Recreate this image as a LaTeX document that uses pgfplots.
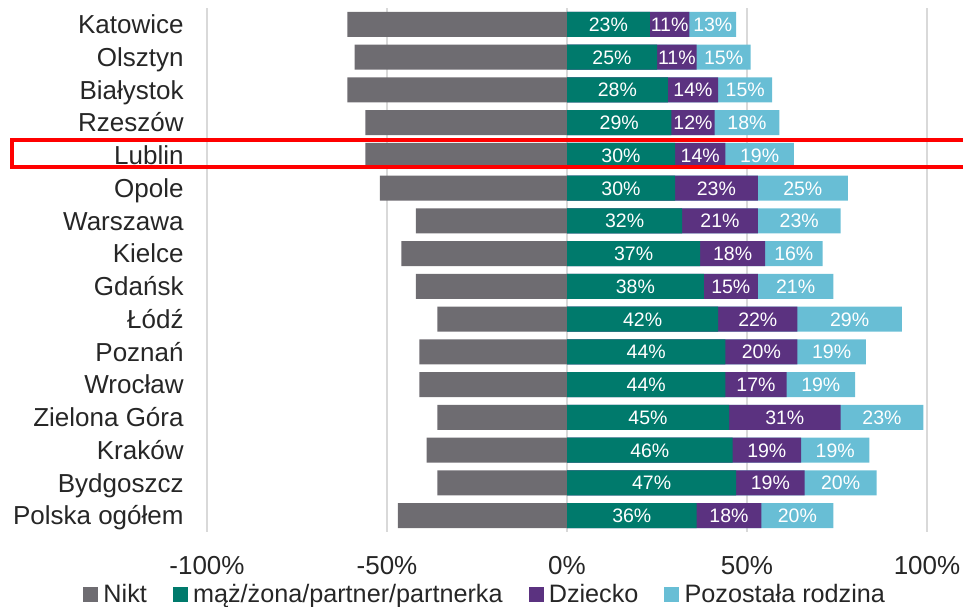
\documentclass[border=0pt]{standalone}
\usepackage{pgfplots}
\pgfplotsset{compat=1.18}
\usepackage{pgfplotstable}
\usepackage{fontspec}
\setmainfont{Liberation Sans}
\usetikzlibrary{calc}
\definecolor{cGray}{HTML}{6E6C71}
\definecolor{cTeal}{HTML}{007A6C}
\definecolor{cPurple}{HTML}{5B3280}
\definecolor{cBlue}{HTML}{68BED5}
\definecolor{cText}{HTML}{262626}
\definecolor{cGrid}{HTML}{D9D9D9}

% n = Nikt, a = mąż/żona/partner/partnerka, b = Dziecko, c = Pozostała rodzina
\pgfplotstableread{
idx n  a  b  c
0   61 23 11 13
1   59 25 11 15
2   61 28 14 15
3   56 29 12 18
4   56 30 14 19
5   52 30 23 25
6   42 32 21 23
7   46 37 18 16
8   42 38 15 21
9   36 42 22 29
10  41 44 20 19
11  41 44 17 19
12  36 45 31 23
13  39 46 19 19
14  36 47 19 20
15  47 36 18 20
}\data

\newcommand{\lblfont}{\fontsize{13}{15}\selectfont}

\begin{document}
\begin{tikzpicture}
\begin{axis}[
  name=ax,
  scale only axis,
  width=360pt, height=262pt,
  xmin=-100, xmax=100,
  ymin=-0.5, ymax=15.5,
  y dir=reverse,
  clip=false,
  axis line style={draw=none},
  tick style={draw=none},
  xmajorgrids, grid style={cGrid, line width=0.6pt},
  xtick={-100,-50,0,50,100},
  xticklabels={-100\%,-50\%,0\%,50\%,100\%},
  xticklabel style={font=\lblfont, text=cText, anchor=base, inner sep=0pt, yshift=-21pt},
  ytick={0,...,15},
  yticklabels={Katowice,Olsztyn,Białystok,Rzeszów,Lublin,Opole,Warszawa,Kielce,Gdańsk,Łódź,Poznań,Wrocław,Zielona Góra,Kraków,Bydgoszcz,Polska ogółem},
  yticklabel style={font=\lblfont, text=cText, anchor=base east, inner sep=0pt, xshift=-11.5pt, yshift=-4.6pt},
  legend columns=4,
  legend style={draw=none, fill=none, at={(0.387,-0.12)}, anchor=center,
    font=\fontsize{12.6}{14}\selectfont, text=cText, inner sep=0pt,
    nodes={inner sep=1.5pt},
    /tikz/every odd column/.append style={column sep=1.2pt},
    /tikz/every even column/.append style={column sep=11.5pt}},
  legend image code/.code={\fill[#1] (0pt,-3.5pt) rectangle (7pt,3.5pt);},
  bars/.style={xbar, bar width=12.5pt, bar shift=0pt, draw=none, forget plot},
  lbl/.style={draw=none, mark=none, forget plot, point meta=explicit symbolic,
    nodes near coords={\pgfplotspointmeta\%},
    every node near coord/.style={anchor=base, inner sep=0pt, yshift=-3.5pt,
      text=white, font=\fontsize{9.75}{11}\selectfont}},
]
  % bars (layered from 0)
  \addplot[bars, fill=cGray] table[x expr=-\thisrow{n}, y=idx] {\data};
  \addplot[bars, fill=cBlue] table[x expr=\thisrow{a}+\thisrow{b}+\thisrow{c}, y=idx] {\data};
  \addplot[bars, fill=cPurple] table[x expr=\thisrow{a}+\thisrow{b}, y=idx] {\data};
  \addplot[bars, fill=cTeal] table[x=a, y=idx] {\data};
  % value labels, centred in each segment
  \addplot[lbl] table[x expr=\thisrow{a}/2, y=idx, meta=a] {\data};
  \addplot[lbl] table[x expr=\thisrow{a}+\thisrow{b}/2, y=idx, meta=b] {\data};
  \addplot[lbl] table[x expr=\thisrow{a}+\thisrow{b}+\thisrow{c}/2, y=idx, meta=c] {\data};
  % legend
  \addlegendimage{cGray}\addlegendentry{Nikt}
  \addlegendimage{cTeal}\addlegendentry{mąż/żona/partner/partnerka}
  \addlegendimage{cPurple}\addlegendentry{Dziecko}
  \addlegendimage{cBlue}\addlegendentry{Pozostała rodzina}
  % highlight box
  \draw[red, line width=2pt] (axis cs:-154.2,3.53) rectangle (axis cs:125,4.36);
\end{axis}
\pgfresetboundingbox
\useasboundingbox ($(ax.south west)+(-103.5pt,-37pt)$) rectangle ($(ax.south west)+(378pt,266pt)$);
\end{tikzpicture}
\end{document}
